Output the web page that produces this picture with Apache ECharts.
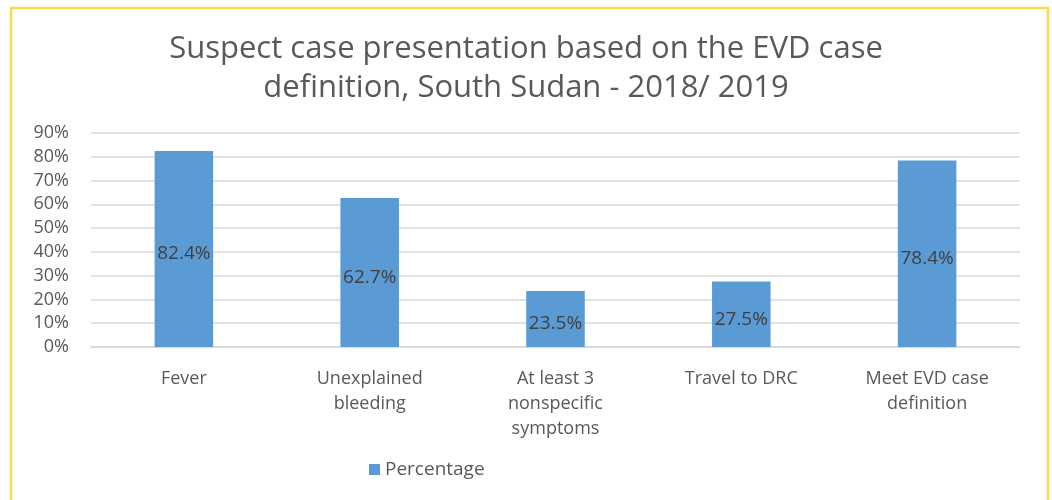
<!DOCTYPE html>
<html>
<head>
<meta charset="utf-8">
<script src="https://cdn.jsdelivr.net/npm/echarts@6/dist/echarts.min.js"></script>
<style>
  html, body { margin: 0; padding: 0; background: #fff; }
  #chart { width: 1052px; height: 500px; }
</style>
</head>
<body>
<div id="chart"></div>
<script>
// 数据
const categories = ['Fever', 'Unexplained\nbleeding', 'At least 3\nnonspecific\nsymptoms', 'Travel to DRC', 'Meet EVD case\ndefinition'];
const percentage = [82.4, 62.7, 23.5, 27.5, 78.4];
const titleText = 'Suspect case presentation based on the EVD case\ndefinition, South Sudan - 2018/ 2019';

const FONT = '"Open Sans", sans-serif';
const GREY = '#595959';

const chart = echarts.init(document.getElementById('chart'));

const option = {
  backgroundColor: '#fff',
  graphic: [{
    type: 'rect',
    shape: { x: 11, y: 8, width: 1037, height: 500 },
    style: { fill: 'none', stroke: '#F7DC4F', lineWidth: 2.5 },
    silent: true
  }],
  title: {
    text: titleText,
    left: 'center',
    top: 25,
    textStyle: { fontFamily: FONT, fontSize: 31, fontWeight: 'normal', color: GREY, lineHeight: 39 }
  },
  legend: {
    top: 455,
    left: 364,
    itemWidth: 11,
    itemHeight: 11,
    itemGap: 8,
    icon: 'rect',
    textStyle: { fontFamily: FONT, fontSize: 19, color: GREY }
  },
  grid: { left: 91, right: 32, top: 133, bottom: 153 },
  xAxis: {
    type: 'category',
    data: categories,
    axisLine: { lineStyle: { color: '#d9d9d9', width: 1.5 } },
    axisTick: { show: false },
    axisLabel: {
      fontFamily: FONT, fontSize: 18, color: GREY, lineHeight: 25, margin: 19, interval: 0
    }
  },
  yAxis: {
    type: 'value',
    min: 0,
    max: 90,
    interval: 10,
    axisLine: { show: false },
    axisTick: { show: false },
    splitLine: { lineStyle: { color: '#d9d9d9', width: 1.5 } },
    axisLabel: { formatter: '{value}%', fontFamily: FONT, fontSize: 18, color: GREY, margin: 22 }
  },
  series: [{
    name: 'Percentage',
    type: 'bar',
    data: percentage,
    barWidth: '31.5%',
    itemStyle: { color: '#5B9BD5' },
    label: {
      show: true,
      position: 'inside',
      offset: [0, 5],
      formatter: p => p.value.toFixed(1) + '%',
      fontFamily: FONT,
      fontSize: 19,
      color: '#404040'
    }
  }]
};

chart.setOption(option);
window.addEventListener('resize', () => chart.resize());
</script>
</body>
</html>
